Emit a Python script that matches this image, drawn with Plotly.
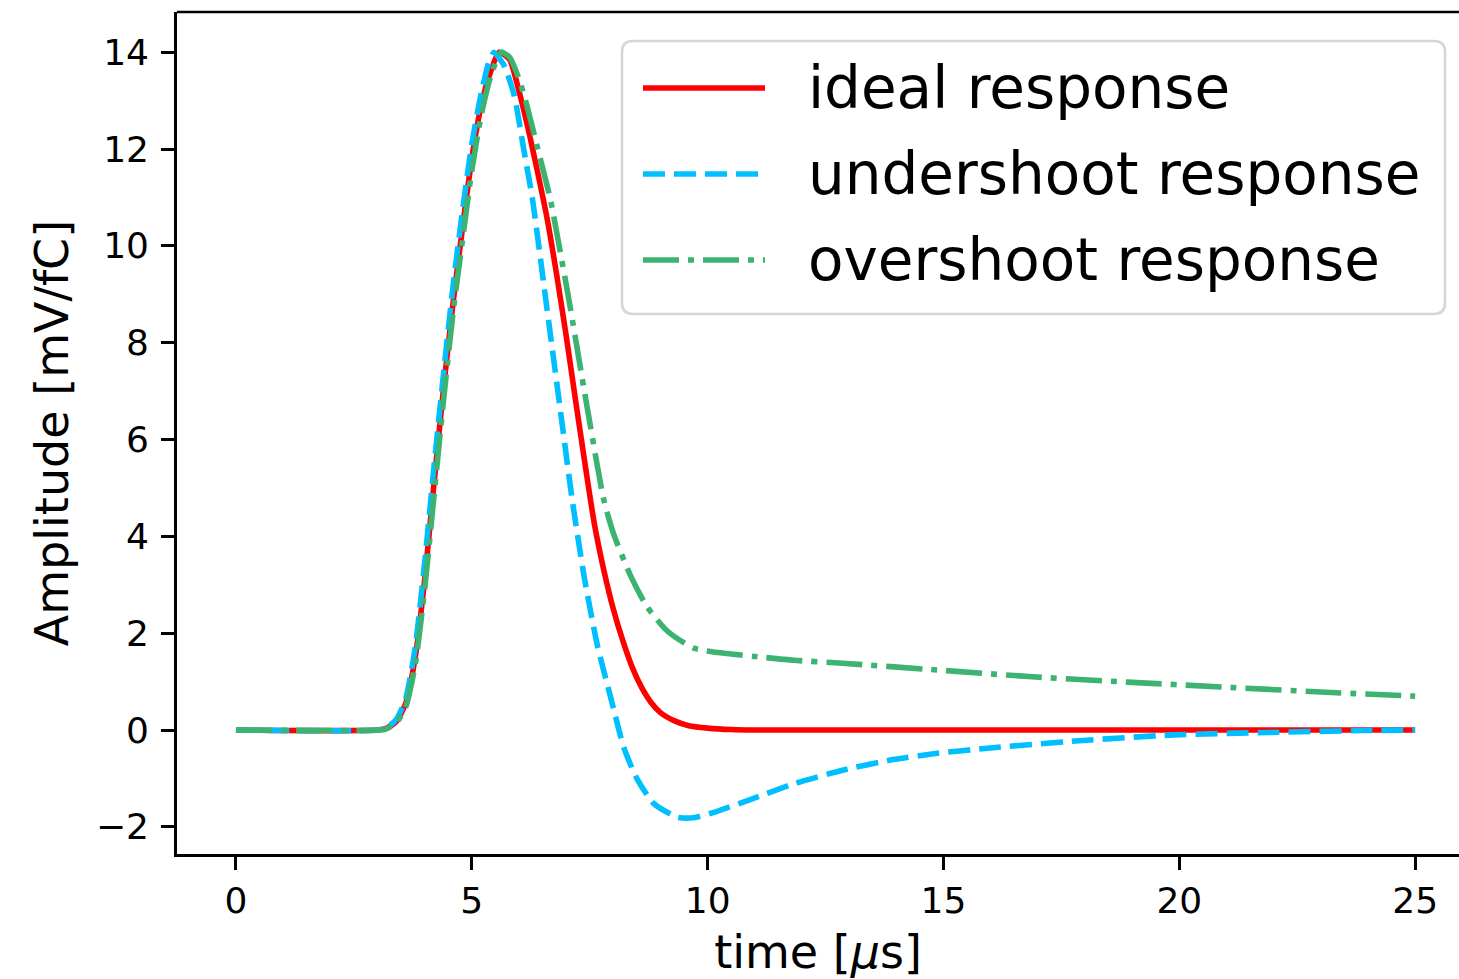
import plotly.graph_objects as go

# ---- data ----
t_ideal = [0.0, 3.0, 3.2, 3.4, 3.6, 3.8, 4.0, 4.2, 4.4, 4.6, 4.8, 5.0, 5.2, 5.4, 5.58,
           5.8, 6.0, 6.2, 6.4, 6.6, 6.8, 7.0, 7.2, 7.4, 7.6, 7.8, 8.0, 8.2, 8.4, 8.6,
           8.8, 9.0, 9.3, 9.6, 10.0, 10.5, 11.0, 25.0]
v_ideal = [0.0, 0.0, 0.04, 0.18, 0.55, 1.5, 3.1, 5.1, 7.05, 8.8, 10.35, 11.8, 12.9, 13.6, 14.0,
           13.85, 13.2, 12.4, 11.5, 10.55, 9.4, 8.15, 6.81, 5.5, 4.25, 3.3, 2.5, 1.85, 1.3, 0.88,
           0.57, 0.36, 0.19, 0.09, 0.04, 0.01, 0.0, 0.0]

t_under = [0.0, 3.0, 3.2, 3.4, 3.6, 3.8, 4.0, 4.2, 4.4, 4.6, 4.8, 5.0, 5.2, 5.35, 5.47,
           5.6, 5.7, 5.9, 6.1, 6.29, 6.57, 6.85, 7.13, 7.38, 7.66, 7.94, 8.23, 8.51, 8.86,
           9.36, 9.7, 10.2, 10.86, 11.86, 12.86, 13.87, 14.87, 15.88, 17.88, 19.89, 21.9,
           23.9, 25.0]
v_under = [0.0, 0.0, 0.05, 0.22, 0.65, 1.7, 3.45, 5.45, 7.35, 9.15, 10.7, 12.1, 13.15, 13.75, 14.0,
           13.85, 13.7, 13.1, 12.0, 10.94, 8.88, 6.81, 4.75, 3.18, 1.76, 0.69, -0.38, -1.02, -1.52,
           -1.80, -1.81, -1.68, -1.45, -1.10, -0.83, -0.62, -0.48, -0.38, -0.22, -0.10, -0.05,
           -0.01, 0.0]

t_over = [0.0, 3.0, 3.2, 3.4, 3.6, 3.8, 4.0, 4.2, 4.4, 4.6, 4.8, 5.0, 5.2, 5.4, 5.62,
          5.8, 6.0, 6.14, 6.4, 6.67, 7.06, 7.42, 7.8, 8.01, 8.37, 8.72, 9.15, 9.71, 10.5,
          11.0, 11.83, 12.86, 14.87, 16.88, 18.89, 20.9, 22.9, 25.0]
v_over = [0.0, 0.0, 0.03, 0.15, 0.48, 1.35, 2.9, 4.85, 6.8, 8.6, 10.1, 11.55, 12.7, 13.5, 14.0,
          13.9, 13.45, 13.0, 12.0, 10.94, 8.88, 6.81, 4.75, 4.04, 3.18, 2.54, 2.04, 1.69, 1.57,
          1.52, 1.44, 1.38, 1.24, 1.10, 0.99, 0.89, 0.79, 0.70]

series_names = ["ideal response", "undershoot response", "overshoot response"]
series_colors = ["#ff0000", "#00bfff", "#3cb371"]
series_dash = ["solid", "22px,9px", "36px,9px,6px,9px"]

x_ticks = [0, 5, 10, 15, 20, 25]
y_ticks = [-2, 0, 2, 4, 6, 8, 10, 12, 14]
y_ticktext = ["\u22122", "0", "2", "4", "6", "8", "10", "12", "14"]

FONT = "DejaVu Sans"
LW = 5.6

fig = go.Figure()
for (tx, vy), name, col, dash in zip(
        [(t_ideal, v_ideal), (t_under, v_under), (t_over, v_over)],
        series_names, series_colors, series_dash):
    fig.add_trace(go.Scatter(x=tx, y=vy, mode="lines", name=name,
                             line=dict(color=col, width=LW, dash=dash, shape="spline",
                                       smoothing=0.6),
                             showlegend=False))

W, H = 1459, 979
L, R, T, B = 177, 0, 12, 125
pw, ph = W - L - R, H - T - B


def px2paper(px, py):
    return (px - L) / pw, (H - B - py) / ph


# ---- manual legend (matplotlib-style rounded box) ----
bx0, by0, bx1, by1, rad = 622, 41, 1445, 314, 11
x0, y1p = px2paper(bx0, by0)
x1, y0p = px2paper(bx1, by1)
rx, ry = rad / pw, rad / ph
path = (f"M {x0+rx},{y1p} L {x1-rx},{y1p} Q {x1},{y1p} {x1},{y1p-ry} "
        f"L {x1},{y0p+ry} Q {x1},{y0p} {x1-rx},{y0p} L {x0+rx},{y0p} "
        f"Q {x0},{y0p} {x0},{y0p+ry} L {x0},{y1p-ry} Q {x0},{y1p} {x0+rx},{y1p} Z")
fig.add_shape(type="path", path=path, xref="paper", yref="paper",
              line=dict(color="#d6d6d6", width=2.6), fillcolor="rgba(255,255,255,0.8)",
              layer="above")

row_y = [88, 174, 260]
for name, col, dash, ry_px in zip(series_names, series_colors, series_dash, row_y):
    lx0, ly = px2paper(643, ry_px)
    lx1, _ = px2paper(765, ry_px)
    fig.add_shape(type="line", xref="paper", yref="paper", x0=lx0, x1=lx1, y0=ly, y1=ly,
                  line=dict(color=col, width=LW, dash=dash), layer="above")
    tx0, _ = px2paper(806, ry_px)
    fig.add_annotation(x=tx0, y=ly, xref="paper", yref="paper", text=name,
                       showarrow=False, xanchor="left", yanchor="middle",
                       font=dict(family=FONT, size=58, color="black"))

axis_common = dict(showline=True, linecolor="black", linewidth=2.6, mirror=False,
                   ticks="outside", ticklen=13, tickwidth=2.6, tickcolor="black",
                   showgrid=False, zeroline=False,
                   tickfont=dict(family=FONT, size=36, color="black"))

fig.update_layout(
    width=W, height=H,
    margin=dict(l=L, r=R, t=T, b=B, pad=0),
    plot_bgcolor="white", paper_bgcolor="white",
    font=dict(family=FONT, color="black"),
    xaxis=dict(range=[-1.25, 25.93], tickvals=x_ticks, **axis_common,
               title=dict(text="time [<i>\u03bc</i>s]", font=dict(family=FONT, size=46),
                          standoff=18)),
    yaxis=dict(range=[-2.56, 14.83], tickvals=y_ticks, ticktext=y_ticktext,
               ticklabelstandoff=5, **axis_common,
               title=dict(text="Amplitude [mV/fC]", font=dict(family=FONT, size=46),
                          standoff=13)),
)
# top spine
fig.add_shape(type="line", xref="paper", yref="paper", x0=0, x1=1, y0=1, y1=1,
              line=dict(color="black", width=2.6))

fig.write_html("out.html")
